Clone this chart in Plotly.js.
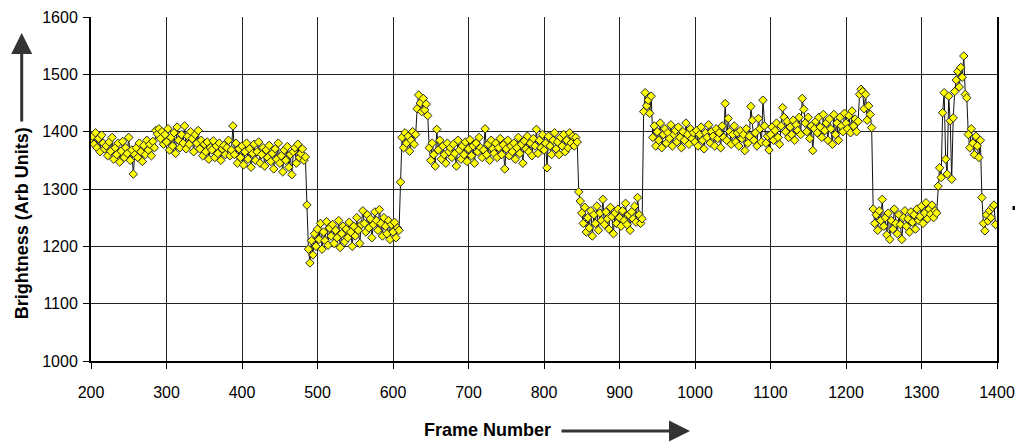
<!DOCTYPE html>
<html>
<head>
<meta charset="utf-8">
<script src="https://cdn.plot.ly/plotly-3.0.1.min.js"></script>
<style>html,body{margin:0;padding:0;background:#fff;}#chart{width:1015px;height:442px;}</style>
</head>
<body>
<div id="chart"></div>
<script>
// Brightness readings, sampled every 2 frames, grouped by segment (start frame given)
const frameStep = 2;
const plateauA_start = 200;
const plateauA = [
 1385,1392,1378,1398,1372,1388,1365,1394,1380,1370,
 1375,1358,1382,1366,1390,1352,1372,1360,1380,1347,
 1366,1383,1355,1372,1362,1390,1350,1368,1326,1360,
 1372,1355,1380,1365,1348,1376,1360,1385,1368,1378,
 1358,1383,1372,1402,1396,1405,1388,1400,1378,1395,
 1382,1405,1368,1390,1375,1398,1362,1408,1385,1372,
 1395,1380,1410,1370,1392,1378,1400,1388,1365,1395,
 1380,1402,1370,1385,1358,1378,1365,1382,1352,1372,
 1368,1384,1355,1375,1362,1380,1350,1370,1376,1360,
 1372,1385,1358,1368,1410,1360,1380,1345,1370,1355,
 1375,1342,1365,1380,1352,1370,1338,1362,1378,1350,
 1365,1382,1345,1360,1372,1340,1368,1355,1376,1348,
 1362,1335,1370,1352,1380,1345,1358,1330,1368,1350,
 1374,1338,1360,1325,1365,1372,1345,1378,1355,1362,
 1370,1350,1356
];
const lowB_start = 486;
const lowB = [
 1272,1195,1171,1210,1185,1222,1200,
 1230,1212,1240,1195,1225,1210,1243,1202,1232,1218,
 1238,1205,1228,1215,1245,1198,1222,1235,1208,1230,
 1215,1242,1225,1200,1235,1218,1250,1228,1205,1238,
 1262,1240,1225,1255,1232,1248,1215,1238,1260,1245,
 1228,1264,1240,1218,1250,1235,1222,1245,1212,1238,
 1225,1242,1215,1232,1228
];
const peakB_start = 610;
const peakB = [
 1312,1390,1372,1398,1380,
 1392,1366,1385,1400,1378,1395,1440,1464,1450,1435,
 1458,1438,1448,1428
];
const plateauC_start = 648;
const plateauC = [
 1372,1350,1380,1360,1340,1404,
 1368,1385,1352,1375,1360,1345,1380,1365,1372,1355,
 1378,1362,1340,1385,1368,1352,1375,1360,1382,1348,
 1370,1386,1358,1375,1345,1380,1365,1390,1372,1355,
 1368,1405,1360,1378,1350,1385,1370,1362,1380,1355,
 1372,1388,1360,1377,1335,1370,1385,1358,1375,1365,
 1380,1352,1372,1390,1362,1378,1345,1384,1370,1392,
 1365,1380,1358,1388,1375,1404,1362,1385,1372,1395,
 1368,1380,1337,1392,1375,1360,1385,1398,1370,1382,
 1360,1390,1375,1395,1365,1385,1372,1398,1380,1392,
 1375,1390,1382
];
const lowD_start = 846;
const lowD = [
 1295,1279,1258,1240,1268,1225,1250,
 1232,1262,1218,1255,1240,1270,1228,1258,1245,1282,
 1238,1260,1248,1230,1268,1252,1222,1258,1240,1265,
 1250,1235,1262,1245,1275,1238,1255,1228,1260,1248,
 1270,1242,1285,1255,1240,1248
];
const plateauE_start = 932;
const plateauE = [
 1435,1468,1445,1455,
 1432,1462,1390,1410,1375,1400,1385,1415,1372,1395,
 1405,1380,1398,1388,1412,1375,1395,1402,1382,1408,
 1390,1372,1400,1385,1415,1395,1378,1405,1388,1398,
 1382,1402,1375,1395,1408,1385,1370,1398,1390,1412,
 1380,1400,1392,1375,1405,1388,1398,1372,1410,1390,
 1449,1385,1423,1400,1378,1395,1410,1382,1398,1375,
 1402,1388,1395,1367,1405,1380,1392,1444,1420,1385,
 1398,1375,1423,1405,1382,1455,1410,1380,1392,1368,
 1395,1408,1385,1402,1415,1390,1378,1410,1442,1425,
 1400,1418,1390,1408,1395,1420,1385,1412,1402,1425,
 1395,1458,1439,1415,1400,1425,1388,1410,1367,1405,
 1418,1398,1425,1408,1390,1430,1402,1415,1385,1422,
 1405,1378,1430,1395,1415,1385,1425,1410,1400,1432,
 1415,1405,1428,1398,1436,1410,1422,1400,1418,1465,
 1474,1470,1440,1465,1420,1445,1430,1407
];
const lowF_start = 1236;
const lowF = [
 1265,1240,
 1255,1228,1262,1245,1282,1235,1250,1220,1258,1212,
 1245,1230,1265,1240,1222,1255,1238,1212,1250,1262,
 1235,1248,1225,1260,1242,1255,1230,1265,1245,1252,
 1270,1240,1258,1276,1248,1265,1256,1272,1250,1262,
 1258
];
const burstG_start = 1322;
const burstG = [
 1305,1337,1320,1433,1468,1352,1326,1462,1419,
 1317,1424,1470,1490,1505,1478,1512,1495,1532,1465,
 1459,1395,1372,1405,1380,1360,1392,1375,1355,1385
];
const tailH_start = 1380;
const tailH = [1285,1240,1227,1255,1244,1262,1250,1268,1272,1238];

const segments = [
  [plateauA_start, plateauA], [lowB_start, lowB], [peakB_start, peakB],
  [plateauC_start, plateauC], [lowD_start, lowD], [plateauE_start, plateauE],
  [lowF_start, lowF], [burstG_start, burstG], [tailH_start, tailH]
];
const frames = [], brightness = [];
segments.forEach(([start, vals]) => {
  vals.forEach((v, i) => { frames.push(start + i * frameStep); brightness.push(v); });
});

const xTickVals = [200,300,400,500,600,700,800,900,1000,1100,1200,1300,1400];
const yTickVals = [1000,1100,1200,1300,1400,1500,1600];

const W = 906, H = 344, L = 91, T = 17;
const px = x => (x - L) / W;
const py = y => (T + H - y) / H;

const tickFont = {family: 'Liberation Sans, Arial, sans-serif', size: 16, color: '#000'};
const titleFont = {family: 'Liberation Sans, Arial, sans-serif', size: 18, color: '#000'};

const trace = {
  x: frames, y: brightness, type: 'scatter', mode: 'lines+markers',
  line: {color: '#111', width: 1},
  marker: {symbol: 'diamond', size: 6.5, color: '#ffff00', line: {color: '#2a2a2a', width: 1}},
  hoverinfo: 'x+y', showlegend: false
};

const layout = {
  width: 1015, height: 442,
  margin: {l: 91, r: 18, t: 17, b: 81, pad: 0},
  paper_bgcolor: '#fff', plot_bgcolor: '#fff',
  xaxis: {
    range: [200, 1400], tickvals: xTickVals, ticktext: xTickVals.map(String),
    showgrid: true, gridcolor: '#222', gridwidth: 1, zeroline: false,
    showline: true, linecolor: '#000', linewidth: 2,
    ticks: 'outside', ticklen: 6, tickwidth: 1, tickcolor: '#000',
    ticklabelstandoff: 10,
    tickfont: tickFont, fixedrange: true
  },
  yaxis: {
    range: [1000, 1600], tickvals: yTickVals, ticktext: yTickVals.map(String),
    showgrid: true, gridcolor: '#222', gridwidth: 1, zeroline: false,
    showline: true, linecolor: '#000', linewidth: 2, mirror: true,
    ticks: 'outside', ticklen: 6, tickwidth: 1, tickcolor: '#000',
    ticklabelstandoff: 2,
    tickfont: tickFont, fixedrange: true
  },
  shapes: [
    {type: 'rect', xref: 'paper', yref: 'paper', x0: px(1012.5), x1: px(1015), y0: py(210), y1: py(206),
     fillcolor: '#000', line: {width: 0}}
  ],
  annotations: [
    {xref: 'paper', yref: 'paper', x: px(21.7), y: py(223.5), text: '<b>Brightness (Arb Units)</b>',
     textangle: -90, showarrow: false, font: titleFont, xanchor: 'center', yanchor: 'middle'},
    {xref: 'paper', yref: 'paper', x: px(487.5), y: py(430), text: '<b>Frame Number</b>',
     showarrow: false, font: titleFont, xanchor: 'center', yanchor: 'middle'},
    {xref: 'paper', yref: 'paper', x: px(21.7), y: py(33), text: '', showarrow: true,
     ax: 0, ay: 90, axref: 'pixel', ayref: 'pixel', arrowhead: 2, arrowsize: 1.4, arrowwidth: 3,
     arrowcolor: '#333', standoff: 0, startstandoff: 0},
    {xref: 'paper', yref: 'paper', x: px(690), y: py(431), text: '', showarrow: true,
     ax: -130, ay: 0, axref: 'pixel', ayref: 'pixel', arrowhead: 2, arrowsize: 1.4, arrowwidth: 3,
     arrowcolor: '#333', standoff: 0, startstandoff: 0}
  ]
};

Plotly.newPlot('chart', [trace], layout, {displayModeBar: false, staticPlot: true});
</script>
</body>
</html>
